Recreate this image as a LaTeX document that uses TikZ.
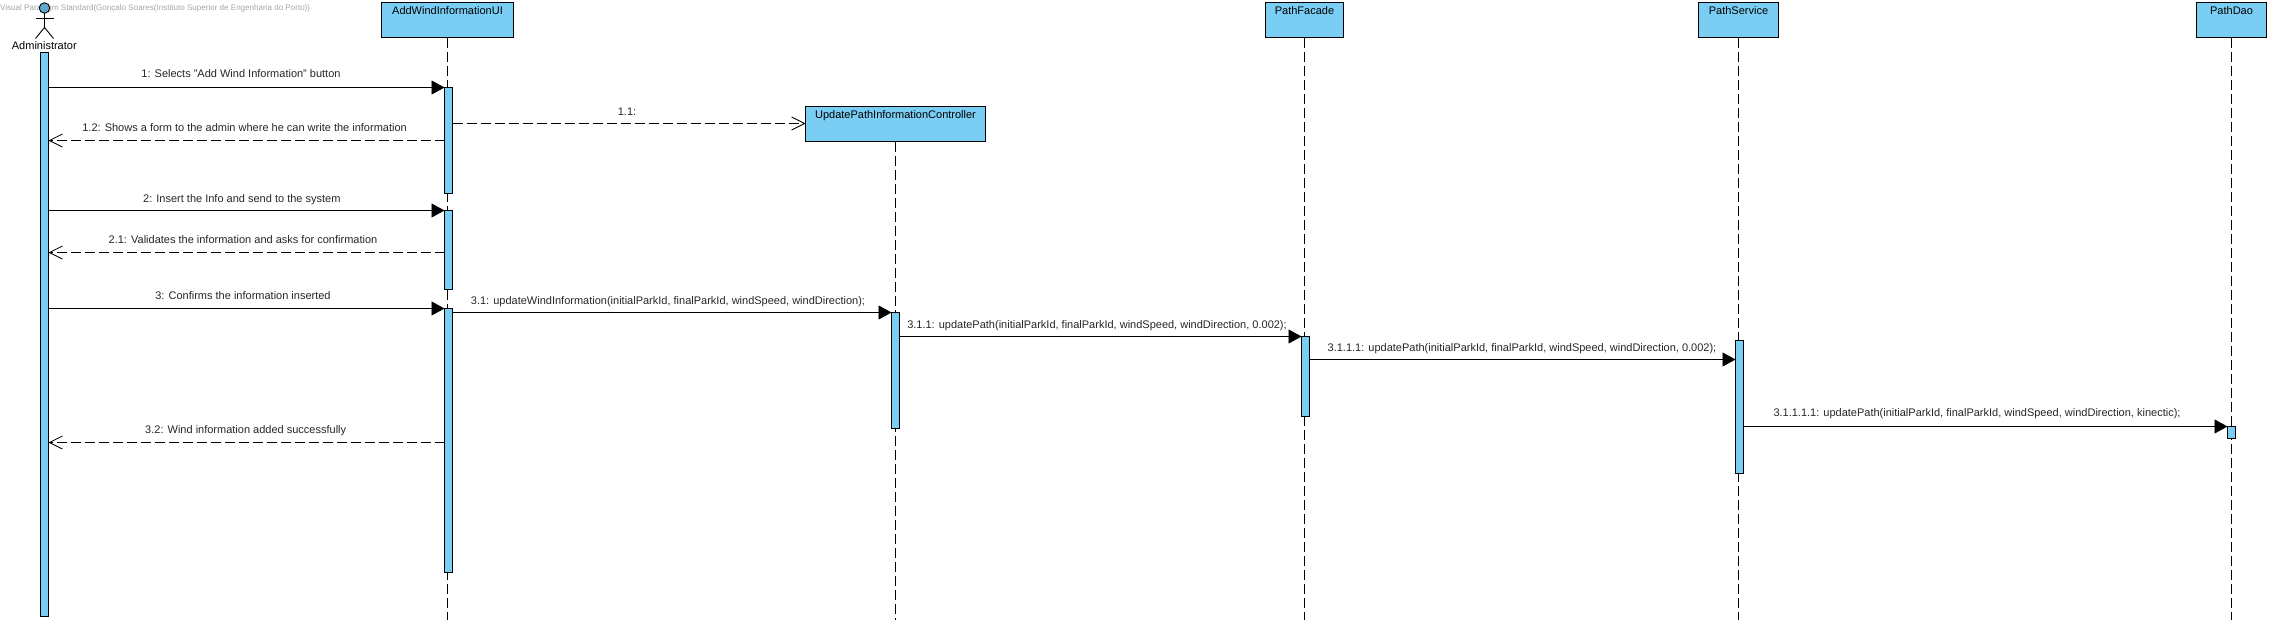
\documentclass[tikz,border=0pt]{standalone}
\usepackage{fontspec}
\setmainfont{Liberation Sans}
\usetikzlibrary{arrows.meta}

\definecolor{boxblue}{RGB}{122,205,243}
\definecolor{headblue}{RGB}{92,170,205}

\begin{document}
\begin{tikzpicture}[x=1pt,y=-1pt,font=\fontsize{11}{13}\selectfont]
    \tikzset{
        classbox/.style={
            draw=black,
            line width=1pt,
            fill=boxblue,
            inner sep=0pt,
            outer sep=0pt,
            anchor=north west,
            align=center,
            font=\fontsize{11}{13}\selectfont,
            text height=11.5pt,
            text depth=23.5pt
        },
        bar/.style={
            draw=black,
            line width=0.9pt,
            fill=boxblue,
            inner sep=0pt,
            outer sep=0pt,
            minimum width=8pt,
            anchor=north west
        },
        lifeline/.style={line width=0.8pt, dash pattern=on 10pt off 4pt},
        sync/.style={line width=0.9pt, -{Triangle[length=13pt,width=14pt]}},
        reply/.style={line width=0.8pt, dash pattern=on 10pt off 4pt, -{Straight Barb[length=13pt,width=13pt]}},
        msgtext/.style={anchor=base, inner sep=0pt, text=black!85}
    }
    \useasboundingbox (0,0) rectangle (2270,621);

    \coordinate (bottom) at (0,620);
    \coordinate (y11) at (0,123.5);
    \coordinate (y12) at (0,140.5);
    \coordinate (y21) at (0,252.5);
    \coordinate (y32) at (0,442.5);
    \coordinate (y3111) at (0,359.5);

    % actor
    \node[anchor=base west, inner sep=0pt, text=black!35, font=\fontsize{8.05}{9}\selectfont] (stamp) at (0,10.5)
        {Visual Paradigm Standard(Gonçalo Soares(Instituto Superior de Engenharia do Porto))};
    \node[circle, draw=black, line width=0.9pt, fill=headblue, inner sep=0pt, outer sep=0pt, minimum size=10.5pt] (head) at (44.5,8) {};
    \coordinate (hip) at (44.5,27.5);
    \draw[line width=0.9pt] (head.south) -- (hip);
    \draw[line width=0.9pt] (35.5,18.5) -- (53.5,18.5);
    \draw[line width=0.9pt] (35.5,38.5) -- (hip) -- (53.5,38.5);
    \node[anchor=base, inner sep=0pt, font=\fontsize{11}{13}\selectfont] (admin) at (44.3,49) {Administrator};

    % class boxes
    \node[classbox, minimum width=132pt] (ui)      at (381.5,2.5)  {AddWindInformationUI};
    \node[classbox, minimum width=180pt] (ctrl)    at (805.5,106.5) {UpdatePathInformationController};
    \node[classbox, minimum width=78pt]  (facade)  at (1265.5,2.5) {PathFacade};
    \node[classbox, minimum width=80pt]  (service) at (1698.5,2.5) {PathService};
    \node[classbox, minimum width=70pt]  (dao)     at (2196.5,2.5) {PathDao};

    % lifelines
    \foreach \obj in {ui,ctrl,facade,service,dao}
        \draw[lifeline] (\obj.south) -- (\obj.south |- bottom);

    % activation bars
    \node[bar, minimum height=564pt] (adminBar)   at (40.5,52.5)    {};
    \node[bar, minimum height=106pt] (uiBarA)     at (444.5,87.5)   {};
    \node[bar, minimum height=79pt]  (uiBarB)     at (444.5,210.5)  {};
    \node[bar, minimum height=264pt] (uiBarC)     at (444.5,308.5)  {};
    \node[bar, minimum height=116pt] (ctrlBar)    at (891.5,312.5)  {};
    \node[bar, minimum height=80pt]  (facadeBar)  at (1301.5,336.5) {};
    \node[bar, minimum height=133pt] (serviceBar) at (1735.5,340.5) {};
    \node[bar, minimum height=12pt]  (daoBar)     at (2227.5,426.5) {};

    % messages
    \draw[sync]  (adminBar.east |- uiBarA.north) -- (uiBarA.north west);
    \draw[reply] (uiBarA.west |- y12) -- (adminBar.east |- y12);
    \draw[reply] (uiBarA.east |- y11) -- (ctrl.west |- y11);
    \draw[sync]  (adminBar.east |- uiBarB.north) -- (uiBarB.north west);
    \draw[reply] (uiBarB.west |- y21) -- (adminBar.east |- y21);
    \draw[sync]  (adminBar.east |- uiBarC.north) -- (uiBarC.north west);
    \draw[sync]  (uiBarC.east |- ctrlBar.north) -- (ctrlBar.north west);
    \draw[reply] (uiBarC.west |- y32) -- (adminBar.east |- y32);
    \draw[sync]  (ctrlBar.east |- facadeBar.north) -- (facadeBar.north west);
    \draw[sync]  (facadeBar.east |- y3111) -- (serviceBar.west |- y3111);
    \draw[sync]  (serviceBar.east |- daoBar.north) -- (daoBar.north west);

    % message labels
    \node[msgtext] (m1)     at (241,77.3)   {1: Selects "Add Wind Information" button};
    \node[msgtext] (m12)    at (244.6,131.3) {1.2: Shows a form to the admin where he can write the information};
    \node[msgtext] (m11)    at (627,115.7)  {1.1:};
    \node[msgtext] (m2)     at (241.8,202.3) {2: Insert the Info and send to the system};
    \node[msgtext] (m21)    at (243,243.3)  {2.1: Validates the information and asks for confirmation};
    \node[msgtext] (m3)     at (243,299)    {3: Confirms the information inserted};
    \node[msgtext] (m31)    at (668,304)    {3.1: updateWindInformation(initialParkId, finalParkId, windSpeed, windDirection);};
    \node[msgtext] (m32)    at (245.7,433.3) {3.2: Wind information added successfully};
    \node[msgtext] (m311)   at (1097,328.3) {3.1.1: updatePath(initialParkId, finalParkId, windSpeed, windDirection, 0.002);};
    \node[msgtext] (m3111)  at (1522,351.3) {3.1.1.1: updatePath(initialParkId, finalParkId, windSpeed, windDirection, 0.002);};
    \node[msgtext] (m31111) at (1977,416.3) {3.1.1.1.1: updatePath(initialParkId, finalParkId, windSpeed, windDirection, kinectic);};
\end{tikzpicture}
\end{document}
